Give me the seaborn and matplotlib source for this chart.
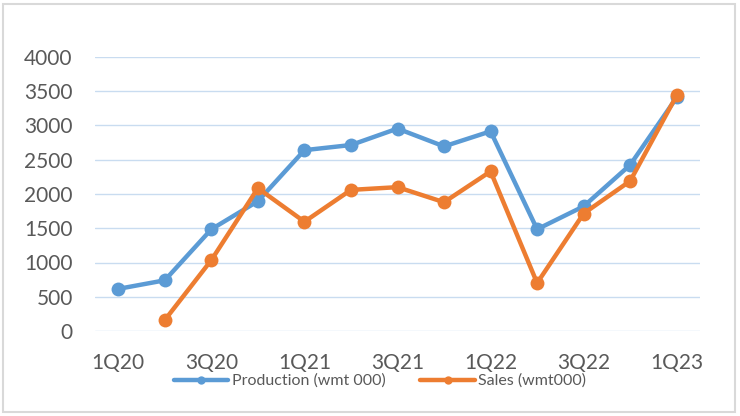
import numpy as np
import pandas as pd
import matplotlib
matplotlib.use("Agg")
import matplotlib.pyplot as plt
from matplotlib.patches import Rectangle
from matplotlib.lines import Line2D
import seaborn as sns

quarters = ["1Q20", "2Q20", "3Q20", "4Q20", "1Q21", "2Q21", "3Q21",
            "4Q21", "1Q22", "2Q22", "3Q22", "4Q22", "1Q23"]
production = [615, 740, 1485, 1895, 2640, 2715, 2955, 2695, 2915, 1485, 1820, 2425, 3410]
sales = [np.nan, 160, 1035, 2085, 1595, 2060, 2100, 1880, 2330, 700, 1715, 2190, 3440]
series_names = ["Production (wmt 000)", "Sales (wmt000)"]
colors = ["#5B9BD5", "#ED7D31"]

df = pd.concat([
    pd.DataFrame({"pos": np.arange(len(quarters)), "value": production, "series": series_names[0]}),
    pd.DataFrame({"pos": np.arange(len(quarters)), "value": sales, "series": series_names[1]}),
]).dropna()

sns.set_theme(style="white")
plt.rcParams["font.family"] = ["Lato", "DejaVu Sans"]

fig = plt.figure(figsize=(7.4, 4.16), dpi=100)
ax = fig.add_axes([95 / 740, 1 - 331 / 416, 605 / 740, 274 / 416])

sns.lineplot(data=df, x="pos", y="value", hue="series", hue_order=series_names,
             palette=colors, marker="o", markersize=10, markeredgewidth=0,
             linewidth=3.2, sort=False, ax=ax, legend=False)

ax.set_xlim(-0.5, len(quarters) - 0.5)
ax.set_ylim(0, 4000)
ax.set_yticks(range(0, 4001, 500))
ax.set_xticks(range(0, len(quarters), 2))
ax.set_xticklabels(quarters[::2])
ax.tick_params(axis="both", length=0, labelsize=15, colors="#595959")
ax.tick_params(axis="y", pad=16)
ax.tick_params(axis="x", pad=16)
ax.set_xlabel("")
ax.set_ylabel("")
ax.yaxis.grid(True, color="#C9DCF0", linewidth=1)
ax.set_axisbelow(True)
for s in ax.spines.values():
    s.set_visible(False)

handles = [Line2D([], [], color=c, linewidth=3.2, marker="o", markersize=6,
                  markeredgewidth=0) for c in colors]
ax.legend(handles, series_names, loc="center", bbox_to_anchor=(380 / 740, 1 - 381 / 416),
          bbox_transform=fig.transFigure, ncol=2, frameon=False, fontsize=11.5,
          handlelength=3.4, handletextpad=0.2, columnspacing=2.2,
          labelcolor="#595959")

fig.patches.append(Rectangle((3 / 740, 4 / 416), 732 / 740, 408 / 416,
                             transform=fig.transFigure, fill=False,
                             edgecolor="#D9D9D9", linewidth=1.5))

fig.savefig("out.png", dpi=100, facecolor="white")
